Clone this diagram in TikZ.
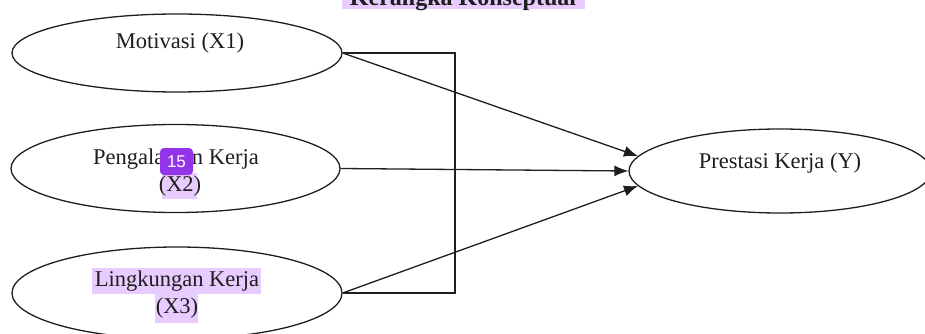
\documentclass[tikz,border=0pt]{standalone}
\usepackage{fontspec}
\setmainfont{Liberation Serif}
\newfontfamily\badgefont{Liberation Sans}
\usetikzlibrary{arrows.meta,shapes.geometric}
\definecolor{hl}{HTML}{E8CCFF}
\definecolor{badgecol}{HTML}{9333EA}
\definecolor{ink}{HTML}{1E1E1E}
\begin{document}
\begin{tikzpicture}[x=1pt,y=-1pt,
  oval/.style={draw=ink, ellipse, line width=1.3pt, inner sep=0pt},
  conn/.style={draw=ink, line width=1.3pt},
  arr/.style={conn, -{Latex[length=14pt,width=11pt]}},
  lbl/.style={font=\fontsize{22.5}{27}\selectfont, text=ink, inner sep=0pt},
  hlbox/.style={fill=hl, draw=none}]
\useasboundingbox (0,0) rectangle (925,334);
% highlights
\fill[hl] (342,-20) rectangle (585,9);
\fill[hl] (162,173) rectangle (197,199);
\fill[hl] (92,268) rectangle (261,294);
\fill[hl] (155,294) rectangle (198,323);
% title
\node[lbl, font=\fontsize{24}{27}\selectfont\bfseries, anchor=base] (title) at (463,6) {Kerangka Konseptual};
% ellipses
\node[oval, minimum width=330pt, minimum height=78pt] (x1) at (177,53) {};
\node[oval, minimum width=329pt, minimum height=88pt] (x2) at (175.5,168.5) {};
\node[oval, minimum width=330pt, minimum height=92pt] (x3) at (177,293) {};
\node[oval, minimum width=302pt, minimum height=84pt] (y) at (780,171) {};
% labels
\node[lbl] (t1) at (180,43) {Motivasi (X1)};
\node[lbl] (t2a) at (176,159) {Pengalaman Kerja};
\node[lbl] (t2b) at (180,186) {(X2)};
\node[lbl] (t3a) at (177,281) {Lingkungan Kerja};
\node[lbl] (t3b) at (177,308) {(X3)};
\node[lbl] (ty) at (780,163) {Prestasi Kerja (Y)};
% badge
\node[fill=badgecol, rounded corners=4pt, minimum width=33pt, minimum height=27pt, inner sep=0pt,
  text=white, font=\badgefont\fontsize{17}{17}\selectfont] (badge) at (176.5,161.5) {15};
% connectors
\coordinate (bx) at (455,0);
\draw[conn] (x1.east) -- (x1.east -| bx) -- (x3.east -| bx) -- (x3.east);
\draw[arr] (x1.east) -- (y.174);
\draw[arr] (x2.east) -- (y.west);
\draw[arr] (x3.east) -- (y.186);
\end{tikzpicture}
\end{document}
